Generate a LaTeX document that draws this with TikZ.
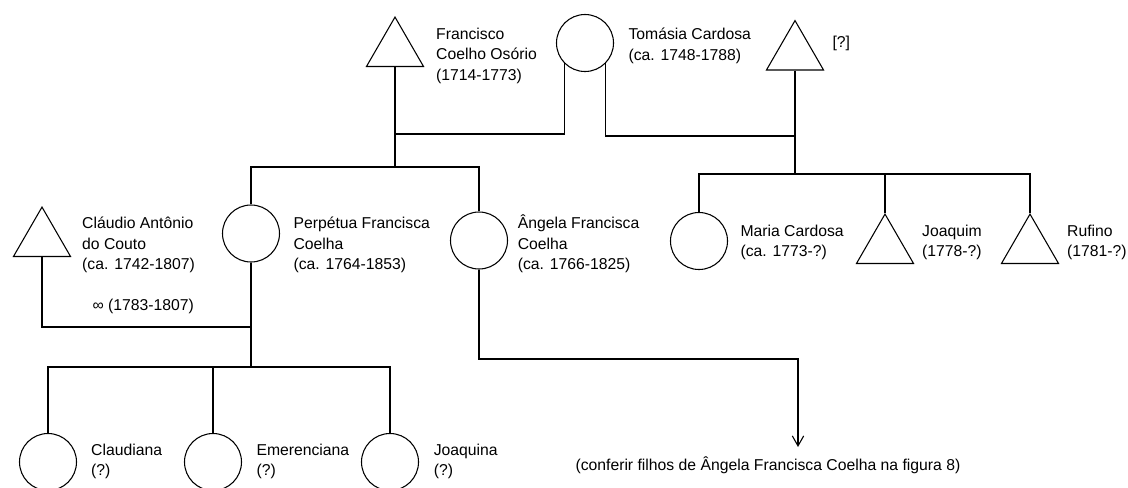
\documentclass[tikz,border=0pt]{standalone}
\usepackage{fontspec}
\setmainfont{Liberation Sans}
\usetikzlibrary{shapes.geometric,arrows.meta}
\tikzset{
	fem/.style={circle,draw,minimum size=42.75pt,inner sep=0pt},
	masc/.style={regular polygon,regular polygon sides=3,draw,minimum size=49.4pt,inner sep=0pt},
	lbl/.style={anchor=base west,inner sep=0pt,align=left,font=\fontsize{11.8pt}{15.2pt}\selectfont},
}
\begin{document}
\begin{tikzpicture}[x=0.75pt,y=0.75pt,yscale=-1,xscale=1,line width=0.8pt]
	\useasboundingbox (0,0) rectangle (1128,487);

	\node[masc] (fco) at (395,50) {};
	\node[fem] (tom) at (585,43) {};
	\node[masc] (unk) at (795,53.5) {};
	\node[masc] (cla) at (42,240) {};
	\node[fem] (per) at (251,233.5) {};
	\node[fem] (ang) at (479,240.5) {};
	\node[fem] (mar) at (699,241) {};
	\node[masc] (joa) at (885,247) {};
	\node[masc] (ruf) at (1030,247) {};
	\node[fem] (cld) at (48,462) {};
	\node[fem] (eme) at (213,462) {};
	\node[fem] (jqa) at (390,462) {};

	\coordinate (m1) at (395,134);
	\coordinate (m2) at (795,136);
	\coordinate (c1) at (395,167);
	\coordinate (c2) at (795,174);
	\coordinate (m3) at (251,327);
	\coordinate (c3) at (251,367);
	\coordinate (m4) at (798,359);
	\coordinate (tip) at (798,447);

	\draw (fco.south) -- (c1);
	\draw (tom.-136) |- (m1);
	\draw (tom.-44) |- (m2);
	\draw (unk.south) -- (c2);
	\draw (per.north) |- (c1) -| (ang.north);
	\draw (mar.north) |- (c2) -| (ruf.north);
	\draw (joa.north) -- (joa.north |- c2);
	\draw (cla.south) |- (m3);
	\draw (per.south) -- (c3);
	\draw (cld.north) |- (c3) -| (jqa.north);
	\draw (eme.north) -- (eme.north |- c3);
	\draw [-{Straight Barb[length=7.5pt,width=8.5pt]}] (ang.south) |- (m4) -- (tip);

	\node[lbl] (tfco) at (435.7,80) {Francisco\\Coelho Osório\\(1714-1773)};
	\node[lbl] (ttom) at (628,60) {Tomásia Cardosa\\(ca. 1748-1788)};
	\node[lbl] (tunk) at (832,47) {[?]};
	\node[lbl] (tcla) at (81.7,269.5) {Cláudio Antônio\\do Couto\\(ca. 1742-1807)};
	\node[lbl] (tcas) at (92,310.7) {∞ (1783-1807)};
	\node[lbl] (tper) at (293,269.5) {Perpétua Francisca\\Coelha\\(ca. 1764-1853)};
	\node[lbl] (tang) at (517.3,269.5) {Ângela Francisca\\Coelha\\(ca. 1766-1825)};
	\node[lbl] (tmar) at (740,256.5) {Maria Cardosa\\(ca. 1773-?)};
	\node[lbl] (tjoa) at (921.7,256.5) {Joaquim\\(1778-?)};
	\node[lbl] (truf) at (1066.7,256.5) {Rufino\\(1781-?)};
	\node[lbl] (tcld) at (90.7,475.5) {Claudiana\\(?)};
	\node[lbl] (teme) at (256,475.5) {Emerenciana\\(?)};
	\node[lbl] (tjqa) at (433.3,475.5) {Joaquina\\(?)};
	\node[lbl] (tconf) at (575,470) {(conferir filhos de Ângela Francisca Coelha na figura 8)};
\end{tikzpicture}
\end{document}
